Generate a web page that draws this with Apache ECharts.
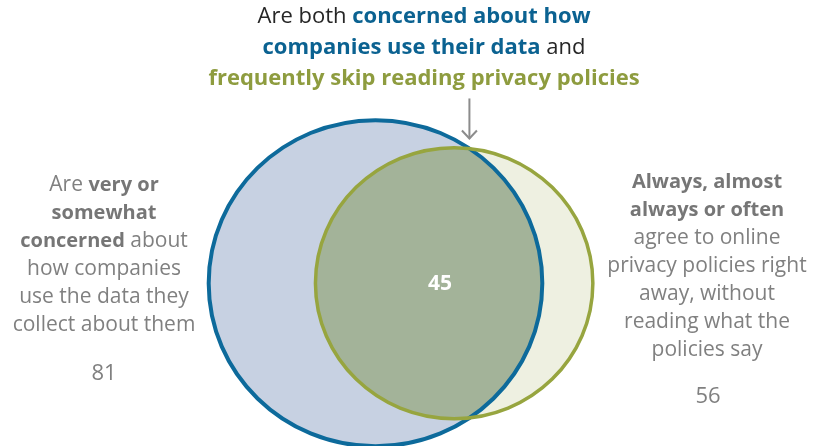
<!DOCTYPE html>
<html>
<head>
<meta charset="utf-8">
<script src="https://cdn.jsdelivr.net/npm/echarts@6/dist/echarts.min.js"></script>
<style>
  html, body { margin: 0; padding: 0; background: #fff; }
  #chart { width: 819px; height: 446px; }
</style>
</head>
<body>
<div id="chart"></div>
<script>
// 两个集合的占比 (%)，以及交集
const setNames = ["concerned", "skipReading"];
const setValues = [81, 56];
const overlapValue = 45;

const fillColors = ["#c7d1e2", "#eef0e1"];
const strokeColors = ["#0d6a9b", "#97a53f"];
const overlapColor = "#a3b399";
const font = "'Open Sans', Roboto, sans-serif";

// 面积与数值成比例：半径 = sqrt(v / PI)
const radii = setValues.map((v) => Math.sqrt(v / Math.PI));
const r1 = radii[0];
const r2 = radii[1];

const lensArea = (d) => {
  const a1 = Math.acos((d * d + r1 * r1 - r2 * r2) / (2 * d * r1));
  const a2 = Math.acos((d * d + r2 * r2 - r1 * r1) / (2 * d * r2));
  const k = Math.sqrt((-d + r1 + r2) * (d + r1 - r2) * (d - r1 + r2) * (d + r1 + r2));
  return r1 * r1 * a1 + r2 * r2 * a2 - 0.5 * k;
};
// 二分求圆心距，使交集面积 = overlapValue
let lo = Math.abs(r1 - r2) + 1e-6;
let hi = r1 + r2 - 1e-6;
for (let i = 0; i < 80; i++) {
  const mid = (lo + hi) / 2;
  if (lensArea(mid) > overlapValue) lo = mid;
  else hi = mid;
}
const dist = (lo + hi) / 2;
const centers = [[0, 0], [dist, 0]];
const xi = (dist * dist + r1 * r1 - r2 * r2) / (2 * dist);
const yi = Math.sqrt(r1 * r1 - xi * xi);

const circleData = centers.map((c, i) => [c[0], c[1], radii[i]]);

const myChart = echarts.init(document.getElementById("chart"));

const renderCircle = (asStroke) => (params, api) => {
  const c = api.coord([api.value(0), api.value(1)]);
  const s = api.size([api.value(2), api.value(2)]);
  const i = params.dataIndex;
  return {
    type: "ellipse",
    shape: { cx: c[0], cy: c[1], rx: s[0], ry: s[1] },
    style: asStroke
      ? { fill: "none", stroke: strokeColors[i], lineWidth: i === 0 ? 4 : 3.5 }
      : { fill: fillColors[i] },
  };
};

const renderLens = (params, api) => {
  const pts = [];
  const t1 = Math.atan2(yi, xi);
  const phi = Math.atan2(yi, xi - dist);
  const n = 90;
  for (let k = 0; k <= n; k++) {
    const a = -t1 + (2 * t1 * k) / n;
    pts.push(api.coord([r1 * Math.cos(a), r1 * Math.sin(a)]));
  }
  for (let k = 0; k <= n; k++) {
    const a = phi + ((2 * Math.PI - 2 * phi) * k) / n;
    pts.push(api.coord([dist + r2 * Math.cos(a), r2 * Math.sin(a)]));
  }
  return { type: "polygon", shape: { points: pts }, style: { fill: overlapColor } };
};

// 箭头指向上方交点
const renderArrow = (params, api) => {
  const p = api.coord([api.value(0), api.value(1)]);
  const tipY = p[1] - 10;
  const style = { stroke: "#8c8c8c", lineWidth: 2, fill: "none" };
  return {
    type: "group",
    children: [
      { type: "line", shape: { x1: p[0], y1: tipY - 40, x2: p[0], y2: tipY }, style },
      {
        type: "polyline",
        shape: { points: [[p[0] - 7.5, tipY - 8], [p[0], tipY], [p[0] + 7.5, tipY - 8]] },
        style,
      },
    ],
  };
};

const greyText = "#808080";
const option = {
  animation: false,
  grid: { left: 0, right: 0, top: 0, bottom: 0 },
  xAxis: { type: "value", min: -11.43, max: 13.5, show: false },
  yAxis: { type: "value", min: -5.07, max: 8.82, show: false },
  series: [
    { type: "custom", silent: true, data: circleData, renderItem: renderCircle(false) },
    { type: "custom", silent: true, data: [[0]], renderItem: renderLens },
    { type: "custom", silent: true, data: circleData, renderItem: renderCircle(true) },
    { type: "custom", silent: true, data: [[xi, yi]], renderItem: renderArrow },
  ],
  graphic: [
    {
      type: "text",
      x: 424,
      y: 48,
      style: {
        text: "Are both {bl|concerned about how}\n{bl|companies use their data} and\n{gr|frequently skip reading privacy policies}",
        align: "center",
        verticalAlign: "middle",
        font: "22px " + font,
        fill: "#262626",
        lineHeight: 31,
        rich: {
          bl: { fill: "#0b6291", fontWeight: "bold", fontSize: 22, fontFamily: font, lineHeight: 31 },
          gr: { fill: "#8e9c3f", fontWeight: "bold", fontSize: 22, fontFamily: font, lineHeight: 31 },
        },
      },
    },
    {
      type: "text",
      x: 104,
      y: 255,
      style: {
        text: "Are {b|very or}\n{b|somewhat}\n{b|concerned} about\nhow companies\nuse the data they\ncollect about them",
        align: "center",
        verticalAlign: "middle",
        font: "21px " + font,
        fill: greyText,
        lineHeight: 28,
        rich: {
          b: { fill: "#767676", fontWeight: "bold", fontSize: 20, fontFamily: font, lineHeight: 28 },
        },
      },
    },
    {
      type: "text",
      x: 104,
      y: 374,
      style: { text: String(setValues[0]), align: "center", verticalAlign: "middle", font: "22px " + font, fill: greyText },
    },
    {
      type: "text",
      x: 707,
      y: 266,
      style: {
        text: "{b|Always, almost}\n{b|always or often}\nagree to online\nprivacy policies right\naway, without\nreading what the\npolicies say",
        align: "center",
        verticalAlign: "middle",
        font: "21px " + font,
        fill: greyText,
        lineHeight: 28,
        rich: {
          b: { fill: "#767676", fontWeight: "bold", fontSize: 20, fontFamily: font, lineHeight: 28 },
        },
      },
    },
    {
      type: "text",
      x: 708,
      y: 397,
      style: { text: String(setValues[1]), align: "center", verticalAlign: "middle", font: "22px " + font, fill: greyText },
    },
    {
      type: "text",
      x: 440,
      y: 284,
      z: 100,
      style: { text: String(overlapValue), align: "center", verticalAlign: "middle", font: "bold 21px " + font, fill: "#ffffff" },
    },
  ],
};
myChart.setOption(option);
</script>
</body>
</html>
